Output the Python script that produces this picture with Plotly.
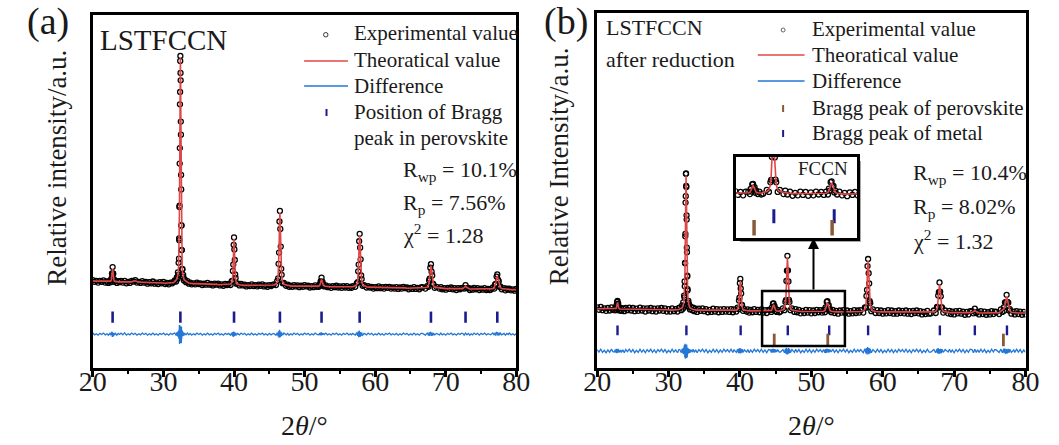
import numpy as np
import plotly.graph_objects as go

W, H = 1059, 445

# ---------------- panel (a): LSTFCCN ----------------
two_theta_a = [
    20.0, 20.25, 20.5, 20.75, 21.0, 21.25, 21.5, 21.75, 22.0, 22.2,
    22.4, 22.53, 22.62, 22.66, 22.71, 22.75, 22.8, 22.85, 22.89, 22.94, 22.98, 23.07, 23.2,
    23.4, 23.6, 23.8, 24.0, 24.25, 24.5, 24.75, 25.0, 25.25, 25.5, 25.75, 26.0, 26.25, 26.5, 26.75, 27.0, 27.25,
    27.5, 27.75, 28.0, 28.25, 28.5, 28.75, 29.0, 29.25, 29.5, 29.75, 30.0, 30.25, 30.5, 30.75, 31.0, 31.25, 31.45,
    31.6, 31.8, 31.9, 32.0, 32.05, 32.1, 32.15, 32.2, 32.22, 32.24, 32.26, 32.28, 32.3, 32.32, 32.34, 32.36, 32.38,
    32.4, 32.42, 32.44, 32.46, 32.48, 32.5, 32.52, 32.54, 32.56, 32.58, 32.6, 32.65, 32.7, 32.75, 32.8, 32.9, 33.0, 33.2,
    33.4, 33.6, 33.8, 34.0, 34.25, 34.5, 34.75, 35.0, 35.25, 35.5, 35.75, 36.0, 36.25, 36.5, 36.75, 37.0, 37.25,
    37.5, 37.75, 38.0, 38.25, 38.5, 38.75, 39.0,
    39.23, 39.5, 39.67, 39.78, 39.84, 39.89, 39.95, 40.0, 40.05, 40.11, 40.16, 40.22, 40.33, 40.5, 40.77,
    41.0, 41.25, 41.5, 41.75, 42.0, 42.25, 42.5, 42.75, 43.0, 43.25, 43.5, 43.75, 44.0, 44.25, 44.5, 44.75, 45.0,
    45.25, 45.45,
    45.62, 45.94, 46.12, 46.25, 46.31, 46.38, 46.44, 46.5, 46.56, 46.62, 46.69, 46.75, 46.88, 47.06, 47.38,
    47.6, 47.8, 48.0, 48.25, 48.5, 48.75, 49.0, 49.25, 49.5, 49.75, 50.0, 50.25, 50.5, 50.75, 51.0, 51.25, 51.5, 51.75,
    52.0, 52.14, 52.2, 52.27, 52.33, 52.4, 52.47, 52.53, 52.6, 52.66, 52.8,
    53.0, 53.25, 53.5, 53.75, 54.0, 54.25, 54.5, 54.75, 55.0, 55.25, 55.5, 55.75, 56.0, 56.25, 56.5, 56.65,
    56.82, 57.17, 57.38, 57.52, 57.59, 57.66, 57.73, 57.8, 57.87, 57.94, 58.01, 58.08, 58.22, 58.43, 58.78,
    59.0, 59.25, 59.5, 59.75, 60.0, 60.25, 60.5, 60.75, 61.0, 61.25, 61.5, 61.75, 62.0, 62.25, 62.5, 62.75,
    63.0, 63.25, 63.5, 63.75, 64.0, 64.25, 64.5, 64.75, 65.0, 65.25, 65.5, 65.75, 66.0, 66.25, 66.5,
    66.7, 67.11, 67.37, 67.55, 67.64, 67.72, 67.81, 67.9, 67.99, 68.08, 68.16, 68.25, 68.43, 68.69, 69.1,
    69.3, 69.5, 69.75, 70.0, 70.25, 70.5, 70.75, 71.0, 71.25, 71.5, 71.75, 72.0, 72.2,
    72.4, 72.6, 72.8, 73.0, 73.2,
    73.4, 73.6, 73.8, 74.0, 74.25, 74.5, 74.75, 75.0, 75.25, 75.5, 75.75, 76.0, 76.2,
    76.35, 76.67, 76.88, 76.99, 77.09, 77.2, 77.3, 77.4, 77.51, 77.61, 77.72, 77.93, 78.25,
    78.45, 78.65, 78.85, 79.0, 79.25, 79.5, 79.75, 80.0,
]
calc_a = [
    246, 246, 246, 245, 245, 245, 245, 244, 244, 244,
    245, 246, 249, 254, 262, 274, 281, 274, 262, 254, 249, 246, 245,
    244, 244, 244, 244, 244, 243, 243, 243, 243, 244, 246, 247, 245, 243, 243, 243, 243,
    242, 242, 242, 242, 242, 241, 241, 241, 241, 241, 241, 240, 240, 240, 240, 241, 242,
    245, 249, 252, 259, 264, 273, 288, 324, 349, 384, 430, 488, 559, 639, 723, 800, 856,
    878, 856, 800, 723, 639, 559, 488, 430, 384, 349, 324, 288, 273, 264, 259, 252, 249, 245,
    243, 241, 240, 240, 239, 239, 239, 239, 238, 238, 238, 238, 238, 238, 237, 237, 237,
    237, 236, 236, 236, 236, 236, 236,
    236, 238, 242, 252, 269, 301, 342, 366, 342, 301, 269, 252, 242, 238, 236,
    235, 235, 234, 234, 234, 234, 234, 234, 234, 234, 234, 234, 234, 233, 233, 233, 233,
    234, 234,
    235, 238, 243, 260, 287, 337, 403, 440, 403, 337, 287, 260, 243, 238, 235,
    234, 233, 232, 232, 232, 232, 232, 232, 232, 232, 232, 232, 231, 231, 231, 231, 231, 231,
    232, 234, 236, 241, 247, 251, 247, 241, 236, 234, 232,
    231, 231, 230, 230, 230, 230, 230, 230, 230, 230, 230, 229, 229, 229, 229, 229,
    230, 233, 236, 248, 267, 302, 349, 375, 349, 302, 267, 248, 236, 233, 230,
    229, 229, 228, 228, 228, 228, 228, 228, 228, 228, 228, 228, 227, 227, 227, 227,
    227, 227, 227, 227, 227, 227, 226, 226, 226, 226, 226, 226, 226, 226, 226,
    227, 228, 229, 234, 243, 258, 278, 290, 278, 258, 243, 234, 229, 228, 227,
    226, 225, 225, 225, 225, 225, 225, 225, 225, 224, 224, 224, 224,
    225, 228, 232, 228, 225,
    224, 224, 224, 224, 224, 224, 224, 223, 223, 223, 223, 223, 223,
    224, 225, 228, 233, 242, 254, 261, 254, 242, 233, 228, 225, 224,
    223, 223, 223, 222, 222, 222, 222, 222,
]
resid_a = [
    3, -2, 1, -3, 2, -1, 3, -2, 1, -3,
    2, -3, 4, -5, 6, -8, 5, -6, 5, -4, 3, -2, 2,
    -3, 2, -1, 3, -2, 4, -3, 1, -2, 3, -1, 2, -3, 1, -2, 3, -1,
    2, -3, 1, -2, 3, -2, 1, -3, 2, -1, 3, -2, 1, -3, 2, -1, 2,
    3, -4, 5, -6, 7, -9, 10, -14, 18, -22, 26, -28, 20, -16, 24, -18, 14,
    6, -20, 15, -25, 22, -12, 18, -26, 20, -15, 10, -8, 7, -6, 5, -4, 3, -2,
    3, -2, 2, -3, 1, -2, 3, -1, 2, -3, 1, -2, 3, -2, 1, -3, 2,
    -1, 3, -2, 1, -3, 2, -1,
    2, -3, 4, -5, 6, -8, 7, 4, -6, 5, -4, 3, -3, 2, -2,
    3, -1, 2, -3, 1, -2, 3, -2, 1, -3, 2, -1, 3, -2, 1, -3, 2,
    -2, 1,
    2, -3, 4, -6, 8, -10, 12, 5, -9, 7, -6, 4, -3, 3, -2,
    2, -3, 1, -2, 3, -1, 2, -3, 1, -2, 3, -1, 2, -3, 1, -2, 3, -1,
    -2, 3, -3, 4, -4, 5, -3, 3, -2, 2, -1,
    3, -2, 1, -3, 2, -1, 3, -2, 1, -3, 2, -1, 3, -2, 1, -2,
    2, -3, 4, -5, 7, -9, 10, 5, -8, 6, -5, 4, -3, 2, -2,
    3, -1, 2, -3, 1, -2, 3, -2, 1, -3, 2, -1, 3, -2, 1, -2,
    2, -3, 1, -2, 3, -1, 2, -3, 1, -2, 3, -2, 1, -3, 2,
    2, -3, 3, -4, 5, -5, 6, 4, -5, 4, -4, 3, -2, 2, -2,
    3, -2, 1, -3, 2, -1, 3, -2, 1, -3, 2, -1, 2,
    2, -3, 3, -2, 2,
    -3, 1, -2, 3, -1, 2, -3, 2, -1, 3, -2, 1, -2,
    -2, 3, -3, 4, -4, 5, 4, -4, 4, -3, 3, -2, 2,
    -3, 2, -1, 3, -2, 1, -3, 2,
]
bragg_a = [22.8, 32.4, 40.0, 46.5, 52.4, 57.8, 67.9, 72.8, 77.3]

# ---------------- panel (b): LSTFCCN after reduction ----------------
two_theta_b = [
    20.0, 20.25, 20.5, 20.75, 21.0, 21.25, 21.5, 21.75, 22.0, 22.2,
    22.4, 22.55, 22.65, 22.7, 22.75, 22.8, 22.85, 22.9, 22.95, 23.0, 23.05, 23.15, 23.3,
    23.4, 23.6, 23.8, 24.0, 24.25, 24.5, 24.75, 25.0, 25.25, 25.5, 25.75, 26.0, 26.25, 26.5, 26.75, 27.0, 27.25,
    27.5, 27.75, 28.0, 28.25, 28.5, 28.75, 29.0, 29.25, 29.5, 29.75, 30.0, 30.25, 30.5, 30.75, 31.0, 31.25, 31.45,
    31.57, 31.79, 31.9, 32.01, 32.06, 32.12, 32.17, 32.23, 32.25, 32.27, 32.3, 32.32, 32.34, 32.36, 32.38, 32.41, 32.43,
    32.45, 32.47, 32.49, 32.52, 32.54, 32.56, 32.58, 32.6, 32.63, 32.65, 32.67, 32.73, 32.78, 32.84, 32.89, 33.0, 33.11, 33.33,
    33.45, 33.6, 33.8, 34.0, 34.25, 34.5, 34.75, 35.0, 35.25, 35.5, 35.75, 36.0, 36.25, 36.5, 36.75, 37.0, 37.25,
    37.5, 37.75, 38.0, 38.25, 38.5, 38.75, 39.0,
    39.17, 39.49, 39.67, 39.8, 39.86, 39.93, 39.99, 40.05, 40.11, 40.17, 40.24, 40.3, 40.43, 40.61, 40.93,
    41.1, 41.3, 41.5, 41.75, 42.0, 42.25, 42.5, 42.75, 43.0, 43.25, 43.5, 43.75, 44.0,
    44.25, 44.4, 44.47, 44.55, 44.62, 44.7, 44.78, 44.85, 44.93, 45.0, 45.15,
    45.3, 45.5,
    45.67, 46.02, 46.23, 46.37, 46.44, 46.51, 46.58, 46.65, 46.72, 46.79, 46.86, 46.93, 47.07, 47.28, 47.63,
    47.8, 48.0, 48.25, 48.5, 48.75, 49.0, 49.25, 49.5, 49.75, 50.0, 50.25, 50.5, 50.75, 51.0, 51.25, 51.5,
    51.72, 51.9, 51.99, 52.07, 52.16, 52.25, 52.34, 52.43, 52.51, 52.6, 52.78,
    53.0, 53.25, 53.5, 53.75, 54.0, 54.25, 54.5, 54.75, 55.0, 55.25, 55.5, 55.75, 56.0, 56.25, 56.5, 56.7,
    56.9, 57.27, 57.5, 57.65, 57.72, 57.8, 57.87, 57.95, 58.03, 58.1, 58.18, 58.25, 58.4, 58.63, 59.0,
    59.25, 59.5, 59.75, 60.0, 60.25, 60.5, 60.75, 61.0, 61.25, 61.5, 61.75, 62.0, 62.25, 62.5, 62.75,
    63.0, 63.25, 63.5, 63.75, 64.0, 64.25, 64.5, 64.75, 65.0, 65.25, 65.5, 65.75, 66.0, 66.25, 66.5,
    66.75, 67.16, 67.42, 67.6, 67.69, 67.77, 67.86, 67.95, 68.04, 68.13, 68.21, 68.3, 68.48, 68.74, 69.15,
    69.35, 69.55, 69.75, 70.0, 70.25, 70.5, 70.75, 71.0, 71.25, 71.5, 71.75, 72.0, 72.25,
    72.5, 72.7, 72.9, 73.1, 73.3,
    73.5, 73.75, 74.0, 74.25, 74.5, 74.75, 75.0, 75.25, 75.5, 75.7,
    75.9, 76.3, 76.55, 76.75, 76.95, 77.0, 77.12, 77.24, 77.35, 77.46, 77.58, 77.7, 77.8, 78.02, 78.35,
    78.5, 78.75, 79.0, 79.25, 79.5, 79.75, 80.0,
]
calc_b = [
    167, 167, 167, 167, 166, 166, 166, 166, 166, 166,
    166, 166, 168, 170, 175, 181, 185, 181, 175, 170, 168, 166, 166,
    165, 165, 165, 165, 165, 165, 165, 165, 165, 165, 165, 165, 165, 165, 164, 164, 164,
    164, 164, 164, 164, 164, 164, 164, 164, 164, 164, 164, 163, 163, 163, 163, 164, 165,
    166, 168, 170, 174, 177, 182, 192, 213, 228, 248, 276, 310, 353, 400, 450, 496, 529,
    542, 529, 496, 450, 400, 353, 310, 276, 248, 228, 213, 192, 182, 177, 174, 170, 168, 166,
    165, 164, 164, 163, 163, 163, 163, 163, 162, 162, 162, 162, 162, 162, 162, 162, 162,
    162, 161, 161, 161, 161, 161, 161,
    162, 163, 165, 172, 183, 204, 231, 246, 231, 204, 183, 172, 165, 163, 162,
    161, 161, 161, 161, 161, 160, 160, 160, 160, 160, 160, 160, 160,
    161, 162, 165, 169, 175, 178, 175, 169, 165, 162, 161,
    160, 160,
    162, 164, 168, 180, 199, 236, 284, 311, 284, 236, 199, 180, 168, 164, 162,
    161, 160, 160, 159, 159, 159, 159, 159, 159, 159, 159, 159, 159, 159, 159, 159,
    160, 162, 166, 172, 180, 184, 180, 172, 166, 162, 160,
    159, 159, 158, 158, 158, 158, 158, 158, 158, 158, 158, 158, 158, 158, 158, 158,
    159, 161, 165, 177, 195, 230, 276, 302, 276, 230, 195, 177, 165, 161, 159,
    158, 158, 158, 158, 158, 158, 158, 158, 158, 158, 157, 157, 157, 157, 157,
    157, 157, 157, 157, 157, 157, 157, 157, 157, 156, 156, 156, 156, 156, 156,
    157, 158, 160, 166, 177, 196, 222, 236, 222, 196, 177, 166, 160, 158, 157,
    156, 156, 156, 156, 156, 156, 156, 156, 155, 155, 155, 155, 155,
    156, 159, 162, 159, 156,
    155, 155, 155, 155, 155, 155, 155, 155, 155, 155,
    155, 156, 160, 163, 165, 167, 178, 193, 201, 193, 178, 167, 161, 157, 156,
    155, 155, 155, 155, 155, 155, 155,
]
resid_b = [
    4, -3, 5, -4, 2, -5, 3, -4, 5, -2,
    -3, 4, -5, 6, -6, 5, 4, -5, 6, -4, 3, -4, 3,
    -4, 3, -5, 4, -2, 5, -3, 4, -5, 2, -4, 5, -3, 3, -5, 4, -2,
    5, -4, 3, -5, 4, -2, 5, -3, 4, -5, 2, -4, 5, -3, 3, -5, 4,
    4, -5, 6, -7, 8, -9, 12, -14, 16, -18, 20, -15, 18, -22, 16, -12, 18,
    6, -16, 14, -20, 18, -14, 16, -18, 12, -10, 9, -8, 7, -6, 5, -5, 4, -3,
    5, -4, 3, -5, 4, -2, 5, -3, 4, -5, 2, -4, 5, -3, 4, -5, 3,
    -4, 5, -2, 4, -3, 5, -4,
    3, -4, 5, -6, 7, -6, 8, 5, -7, 6, -5, 5, -4, 3, -3,
    4, -5, 3, -4, 5, -2, 4, -3, 5, -4, 3, -5, 4,
    3, -4, 5, -5, 6, 4, -5, 5, -4, 4, -3,
    4, -3,
    -3, 4, -5, 6, -8, 9, -10, 5, -9, 8, -7, 6, -5, 4, -4,
    5, -3, 4, -5, 2, -4, 5, -3, 4, -5, 3, -4, 5, -2, 4, -3,
    4, -5, 5, -6, 6, 4, -5, 5, -4, 4, -3,
    5, -4, 3, -5, 4, -2, 5, -3, 4, -5, 2, -4, 5, -3, 4, -2,
    4, -5, 6, -7, 8, -10, 11, 5, -9, 8, -7, 6, -5, 4, -4,
    5, -3, 4, -5, 2, -4, 5, -3, 4, -5, 3, -4, 5, -2, 4,
    -3, 5, -4, 3, -5, 4, -2, 5, -3, 4, -5, 2, -4, 5, -3,
    -3, 4, -5, 6, -7, 8, -8, 5, -7, 6, -6, 5, -4, 4, -3,
    5, -4, 3, -5, 4, -2, 5, -3, 4, -5, 3, -4, 5,
    4, -5, 5, -4, 3,
    -4, 5, -3, 4, -5, 2, -4, 5, -3, 4,
    3, -4, 5, -5, 6, -6, 7, -8, 5, -7, 6, -5, 5, -4, 3,
    -4, 5, -3, 4, -5, 3, -4,
]
bragg_perov_b = [22.85, 32.5, 40.1, 46.7, 52.5, 57.95, 68.0, 72.9, 77.4]
bragg_metal_b = [44.8, 52.3, 76.9]

x_ticks = [20, 30, 40, 50, 60, 70, 80]

assert len(two_theta_a) == len(calc_a) == len(resid_a), (len(two_theta_a), len(calc_a), len(resid_a))
assert len(two_theta_b) == len(calc_b) == len(resid_b), (len(two_theta_b), len(calc_b), len(resid_b))

# ---------------- plot offsets / styling constants ----------------
DIFF_OFFSET_A, BRAGG_LEVEL_A = 96, 144
DIFF_OFFSET_B, PEROV_LEVEL_B, METAL_LEVEL_B = 48, 106, 79
ZOOM_X = (43.1, 54.7)
ZOOM_Y = (62, 217)
INSET_Y = (55, 245)

RED = "#e04646"
BLUE = "#2377d6"
NAVY = "#1c1c8e"
BROWN = "#8a5a36"
TXT = "#1a1a1a"
SERIF = "Liberation Serif"

obs_a = np.array(calc_a) + np.array(resid_a)
diff_a = np.array(resid_a) + DIFF_OFFSET_A
obs_b = np.array(calc_b) + np.array(resid_b)
diff_b = np.array(resid_b) + DIFF_OFFSET_B


def PX(x):
    return x / W


def PY(y):
    return 1 - y / H


fig = go.Figure()

obs_marker = dict(symbol="circle-open", size=5, color="black", line=dict(width=1.3, color="black"))

# panel (a)
fig.add_trace(go.Scatter(x=two_theta_a, y=obs_a, mode="markers", marker=obs_marker, xaxis="x", yaxis="y"))
fig.add_trace(go.Scatter(x=two_theta_a, y=calc_a, mode="lines", line=dict(color=RED, width=1.6), xaxis="x", yaxis="y"))
fig.add_trace(go.Scatter(x=two_theta_a, y=diff_a, mode="lines", line=dict(color=BLUE, width=1.3), xaxis="x", yaxis="y"))
fig.add_trace(go.Scatter(x=bragg_a, y=[BRAGG_LEVEL_A] * len(bragg_a), mode="markers",
                         marker=dict(symbol="line-ns", size=8, line=dict(width=2.6, color=NAVY)), xaxis="x", yaxis="y"))

# panel (b)
fig.add_trace(go.Scatter(x=two_theta_b, y=obs_b, mode="markers", marker=obs_marker, xaxis="x2", yaxis="y2"))
fig.add_trace(go.Scatter(x=two_theta_b, y=calc_b, mode="lines", line=dict(color=RED, width=1.6), xaxis="x2", yaxis="y2"))
fig.add_trace(go.Scatter(x=two_theta_b, y=diff_b, mode="lines", line=dict(color=BLUE, width=1.3), xaxis="x2", yaxis="y2"))
fig.add_trace(go.Scatter(x=bragg_perov_b, y=[PEROV_LEVEL_B] * len(bragg_perov_b), mode="markers",
                         marker=dict(symbol="line-ns", size=7, line=dict(width=2.4, color=NAVY)), xaxis="x2", yaxis="y2"))
fig.add_trace(go.Scatter(x=bragg_metal_b, y=[METAL_LEVEL_B] * len(bragg_metal_b), mode="markers",
                         marker=dict(symbol="line-ns", size=9, line=dict(width=2.8, color=BROWN)), xaxis="x2", yaxis="y2"))

# inset (zoom of panel b)
fig.add_trace(go.Scatter(x=two_theta_b, y=obs_b, mode="markers", marker=obs_marker, xaxis="x3", yaxis="y3"))
fig.add_trace(go.Scatter(x=two_theta_b, y=calc_b, mode="lines", line=dict(color=RED, width=1.6), xaxis="x3", yaxis="y3"))
fig.add_trace(go.Scatter(x=bragg_perov_b, y=[PEROV_LEVEL_B] * len(bragg_perov_b), mode="markers",
                         marker=dict(symbol="line-ns", size=10, line=dict(width=3, color=NAVY)), xaxis="x3", yaxis="y3"))
fig.add_trace(go.Scatter(x=bragg_metal_b, y=[METAL_LEVEL_B] * len(bragg_metal_b), mode="markers",
                         marker=dict(symbol="line-ns", size=11, line=dict(width=3.5, color=BROWN)), xaxis="x3", yaxis="y3"))

xa = dict(range=[20, 80], tickvals=x_ticks, ticks="outside", ticklen=6, tickwidth=2.5, tickcolor="black",
          minor=dict(dtick=5, tick0=20, ticks="outside", ticklen=3, tickwidth=2, tickcolor="black"),
          showline=True, mirror=True, linewidth=3, linecolor="black", showgrid=False, zeroline=False,
          ticklabelstandoff=-20,
          tickfont=dict(family=SERIF, size=28, color=TXT))
ya = dict(range=[0, 1000], showticklabels=False, ticks="", showline=True, mirror=True, linewidth=3,
          linecolor="black", showgrid=False, zeroline=False)

fig.update_layout(
    width=W, height=H, margin=dict(l=0, r=0, t=0, b=0),
    paper_bgcolor="white", plot_bgcolor="rgba(0,0,0,0)", showlegend=False,
    font=dict(family=SERIF, color=TXT),
    xaxis=dict(domain=[PX(81), PX(516)], anchor="y", **xa),
    yaxis=dict(domain=[PY(368), PY(15)], anchor="x", **ya),
    xaxis2=dict(domain=[PX(599), PX(1039)], anchor="y2", **xa),
    yaxis2=dict(domain=[PY(368), PY(13)], anchor="x2", **ya),
    xaxis3=dict(domain=[PX(742), PX(866)], anchor="y3", range=list(ZOOM_X), showticklabels=False, ticks="",
                showline=True, mirror=True, linewidth=2.5, linecolor="black", showgrid=False, zeroline=False),
    yaxis3=dict(domain=[PY(238), PY(157)], anchor="x3", range=list(INSET_Y), showticklabels=False, ticks="",
                showline=True, mirror=True, linewidth=2.5, linecolor="black", showgrid=False, zeroline=False),
)

shapes = []
# zoom rectangle in panel (b)
shapes.append(dict(type="rect", xref="x2", yref="y2", x0=ZOOM_X[0], x1=ZOOM_X[1], y0=ZOOM_Y[0], y1=ZOOM_Y[1],
                   line=dict(color="black", width=2.5)))
# inset shadow + white background
shapes.append(dict(type="rect", xref="paper", yref="paper", x0=PX(746), x1=PX(870), y0=PY(242), y1=PY(161),
                   fillcolor="#a8a8a8", line=dict(width=0), layer="below"))
shapes.append(dict(type="rect", xref="paper", yref="paper", x0=PX(742), x1=PX(866), y0=PY(238), y1=PY(157),
                   fillcolor="white", line=dict(width=0), layer="below"))

# legend symbols (a)
shapes.append(dict(type="circle", xref="paper", yref="paper", x0=PX(318), x1=PX(322.5), y0=PY(37), y1=PY(32.5),
                   line=dict(color="#333", width=1)))
shapes.append(dict(type="line", xref="paper", yref="paper", x0=PX(298), x1=PX(343), y0=PY(61), y1=PY(61),
                   line=dict(color=RED, width=1.5)))
shapes.append(dict(type="line", xref="paper", yref="paper", x0=PX(298), x1=PX(343), y0=PY(86), y1=PY(86),
                   line=dict(color=BLUE, width=1.5)))
shapes.append(dict(type="line", xref="paper", yref="paper", x0=PX(321), x1=PX(321), y0=PY(116), y1=PY(109),
                   line=dict(color=NAVY, width=2)))
# legend symbols (b)
shapes.append(dict(type="circle", xref="paper", yref="paper", x0=PX(788), x1=PX(792), y0=PY(32), y1=PY(28),
                   line=dict(color="#666", width=1)))
shapes.append(dict(type="line", xref="paper", yref="paper", x0=PX(764), x1=PX(812), y0=PY(55), y1=PY(55),
                   line=dict(color=RED, width=1.5)))
shapes.append(dict(type="line", xref="paper", yref="paper", x0=PX(764), x1=PX(812), y0=PY(81), y1=PY(81),
                   line=dict(color=BLUE, width=1.5)))
shapes.append(dict(type="line", xref="paper", yref="paper", x0=PX(790), x1=PX(790), y0=PY(112), y1=PY(105),
                   line=dict(color=BROWN, width=2)))
shapes.append(dict(type="line", xref="paper", yref="paper", x0=PX(790), x1=PX(790), y0=PY(137), y1=PY(130),
                   line=dict(color=NAVY, width=2)))
fig.update_layout(shapes=shapes)


def txt(x, y, s, size, xanchor="left", angle=0):
    fig.add_annotation(x=PX(x), y=PY(y), xref="paper", yref="paper", text=s, showarrow=False,
                       xanchor=xanchor, yanchor="middle", textangle=angle,
                       font=dict(family=SERIF, size=size, color=TXT))


# panel labels
txt(35, 22, "(a)", 38, "center")
txt(567, 22, "(b)", 38, "center")
# axis titles
txt(44, 168, "Relative intensity/a.u.", 27, "center", angle=-90)
txt(560, 166, "Relative Intensity/a.u.", 27, "center", angle=-90)
txt(298, 425, "2<i>θ</i>/°", 28, "center")
txt(819, 425, "2<i>θ</i>/°", 28, "center")

# panel (a) texts
txt(86, 40, "LSTFCCN", 29)
for yy, s in [(33, "Experimental value"), (60, "Theoratical value"), (86, "Difference"),
              (112, "Position of Bragg"), (138, "peak in perovskite")]:
    txt(347, yy, s, 21)
txt(398, 171, "R<sub>wp</sub> = 10.1%", 22)
txt(398, 204, "R<sub>p</sub> = 7.56%", 22)
txt(398, 234, "χ<sup>2</sup> = 1.28", 22)

# panel (b) texts
txt(606, 28, "LSTFCCN", 22)
txt(606, 59, "after reduction", 22)
for yy, s in [(29, "Experimental value"), (55, "Theoratical value"), (81, "Difference"),
              (108, "Bragg peak of perovskite"), (133, "Bragg peak of metal")]:
    txt(818, yy, s, 21)
txt(921, 174, "R<sub>wp</sub> = 10.4%", 22)
txt(921, 208, "R<sub>p</sub> = 8.02%", 22)
txt(921, 240, "χ<sup>2</sup> = 1.32", 22)
txt(831, 169, "FCCN", 19, "center")

# arrow from zoom box to inset
fig.add_annotation(x=50.3, y=366, xref="x2", yref="y2", ax=50.3, ay=ZOOM_Y[1], axref="x2", ayref="y2",
                   text="", showarrow=True, arrowhead=2, arrowsize=1.1, arrowwidth=2, arrowcolor="black")

fig.write_html("out.html")
